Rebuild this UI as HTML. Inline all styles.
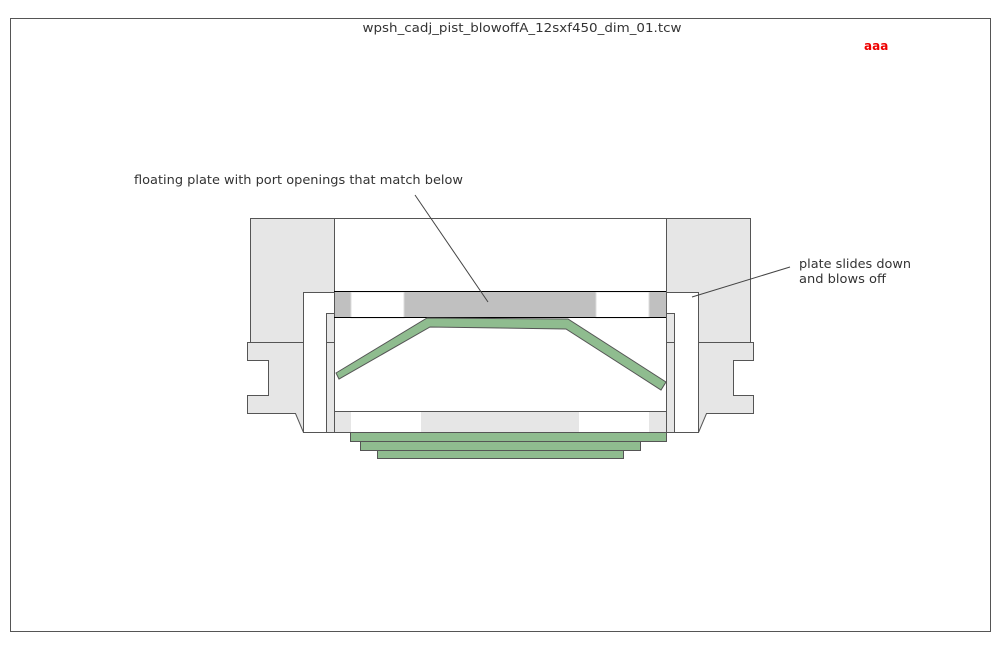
<!DOCTYPE html>
<html><head><meta charset="utf-8"><style>
html,body{margin:0;padding:0;background:#fff;width:1000px;height:650px;overflow:hidden}
text{font-family:"DejaVu Sans","Liberation Sans",sans-serif;font-size:12px;fill:#333}
</style></head><body>
<svg width="1000" height="650" viewBox="0 0 1000 650" xmlns="http://www.w3.org/2000/svg">
<rect x="10.5" y="18.5" width="980" height="613" fill="#fff" stroke="#555"/>
<text x="522" y="32" text-anchor="middle" textLength="319" lengthAdjust="spacingAndGlyphs" fill="#000">wpsh_cadj_pist_blowoffA_12sxf450_dim_01.tcw</text>
<text x="864" y="50" style="fill:#e00;font-weight:bold">aaa</text>
<g stroke="#555" stroke-width="1">
<!-- left body -->
<polygon points="250.5,218.5 334.5,218.5 334.5,432.5 303.5,432.5 295.5,413.5 247.5,413.5 247.5,395.5 268.5,395.5 268.5,360.5 247.5,360.5 247.5,342.5 250.5,342.5" fill="#e6e6e6"/>
<line x1="247.5" y1="342.5" x2="334.5" y2="342.5"/>
<!-- right body -->
<polygon points="750.5,218.5 666.5,218.5 666.5,432.5 698.5,432.5 706.5,413.5 753.5,413.5 753.5,395.5 733.5,395.5 733.5,360.5 753.5,360.5 753.5,342.5 750.5,342.5" fill="#e6e6e6"/>
<line x1="666.5" y1="342.5" x2="753.5" y2="342.5"/>
<!-- slots -->
<rect x="303.5" y="292.5" width="31" height="140" fill="#fff"/>
<rect x="326.5" y="313.5" width="8" height="119" fill="#e6e6e6"/>
<line x1="326.5" y1="342.5" x2="334.5" y2="342.5"/>
<rect x="666.5" y="292.5" width="32" height="140" fill="#fff"/>
<rect x="666.5" y="313.5" width="8" height="119" fill="#e6e6e6"/>
<line x1="666.5" y1="342.5" x2="674.5" y2="342.5"/>
<!-- bottom strip -->
<rect x="334.5" y="411.5" width="332" height="21" fill="#e6e6e6"/>
</g>
<rect x="351" y="412" width="70" height="20" fill="#fff"/>
<rect x="579" y="412" width="70" height="20" fill="#fff"/>
<!-- chamber -->
<rect x="334.5" y="218.5" width="332" height="193" fill="#fff" stroke="#555"/>
<!-- plate -->
<rect x="335" y="292" width="331" height="26" fill="#c0c0c0"/>
<rect x="351" y="292" width="53" height="26" fill="#fff" stroke="#ddd"/>
<rect x="596" y="292" width="53" height="26" fill="#fff" stroke="#ddd"/>
<line x1="334" y1="291.5" x2="666" y2="291.5" stroke="#000"/>
<line x1="334" y1="317.5" x2="666" y2="317.5" stroke="#000"/>
<!-- green V -->
<polygon points="336,373 427,318 568,319 666,382 661,390 566,329 430,327 339,379" fill="#8fbc8f" stroke="#555"/>
<!-- bottom plates -->
<g fill="#8fbc8f" stroke="#555">
<rect x="350.5" y="432.5" width="316" height="9"/>
<rect x="360.5" y="441.5" width="280" height="9"/>
<rect x="377.5" y="450.5" width="246" height="8"/>
</g>
<!-- leaders -->
<line x1="415" y1="195" x2="488" y2="302" stroke="#444"/>
<line x1="692" y1="297" x2="790" y2="267" stroke="#444"/>
<text x="134" y="184" textLength="329" lengthAdjust="spacingAndGlyphs">floating plate with port openings that match below</text>
<text x="799" y="268" textLength="112" lengthAdjust="spacingAndGlyphs">plate slides down</text>
<text x="799" y="283" textLength="87" lengthAdjust="spacingAndGlyphs">and blows off</text>
</svg>
</body></html>
